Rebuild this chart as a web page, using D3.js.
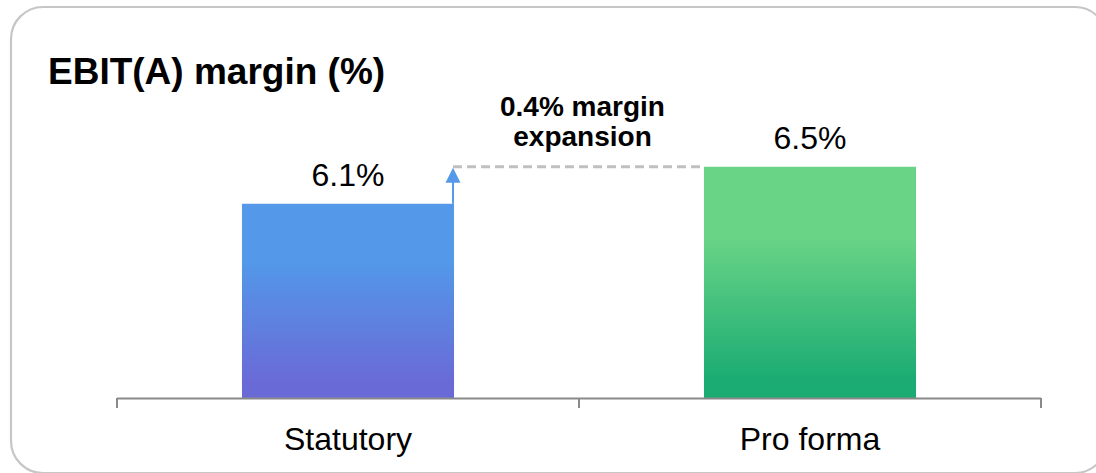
<!DOCTYPE html>
<html>
<head>
<meta charset="utf-8">
<script src="https://cdn.jsdelivr.net/npm/d3@7"></script>
<style>
  html, body { margin: 0; padding: 0; background: #fff; }
  svg { display: block; font-family: "Liberation Sans", Arial, sans-serif; }
</style>
</head>
<body>
<svg id="chart" width="1096" height="473"></svg>
<script>
// ---- data ----
const categories = ["Statutory", "Pro forma"];
const values = [6.1, 6.5];
const valueLabels = ["6.1%", "6.5%"];
const title = "EBIT(A) margin (%)";
const annotationLines = ["0.4% margin", "expansion"];
const yDomain = [4, 7];

// ---- layout ----
const W = 1096, H = 473;
const plot = { left: 117, right: 1041, top: 120.5, bottom: 398 };

const svg = d3.select("#chart");

// gradients
const defs = svg.append("defs");
const grads = [
  { id: "gBlue", top: "#5398e9", bottom: "#6a6ad6" },
  { id: "gGreen", top: "#6ad486", bottom: "#1bac73" }
];
grads.forEach(g => {
  const lg = defs.append("linearGradient").attr("id", g.id)
    .attr("x1", 0).attr("y1", 0).attr("x2", 0).attr("y2", 1);
  lg.append("stop").attr("offset", "0%").attr("stop-color", g.top);
  lg.append("stop").attr("offset", "30%").attr("stop-color", g.top);
  lg.append("stop").attr("offset", "92%").attr("stop-color", g.bottom);
  lg.append("stop").attr("offset", "100%").attr("stop-color", g.bottom);
});

// rounded border
svg.append("rect")
  .attr("x", 11).attr("y", 7)
  .attr("width", 1096).attr("height", 466)
  .attr("rx", 32).attr("ry", 32)
  .attr("fill", "none")
  .attr("stroke", "#c6c6c6")
  .attr("stroke-width", 2.2);

// title
svg.append("text")
  .attr("x", 48).attr("y", 84)
  .attr("font-size", 37).attr("font-weight", "bold")
  .attr("fill", "#000")
  .text(title);

// scales
const x = d3.scaleBand().domain(categories).range([plot.left, plot.right]).padding(0);
const y = d3.scaleLinear().domain(yDomain).range([plot.bottom, plot.top]);
const barFrac = 0.459;
const barW = x.bandwidth() * barFrac;
const barX = c => x(c) + (x.bandwidth() - barW) / 2;

// bars
svg.selectAll("rect.bar").data(categories).enter().append("rect")
  .attr("class", "bar")
  .attr("x", c => barX(c))
  .attr("y", (c, i) => y(values[i]))
  .attr("width", barW)
  .attr("height", (c, i) => y(yDomain[0]) - y(values[i]))
  .attr("fill", (c, i) => `url(#${grads[i].id})`);

// value labels
svg.selectAll("text.val").data(categories).enter().append("text")
  .attr("class", "val")
  .attr("x", c => x(c) + x.bandwidth() / 2)
  .attr("y", (c, i) => y(values[i]) - 18)
  .attr("text-anchor", "middle")
  .attr("font-size", 32)
  .attr("fill", "#000")
  .text((c, i) => valueLabels[i]);

// x axis (Excel-style: ticks at category boundaries)
const axisG = svg.append("g").attr("transform", `translate(0,${plot.bottom})`);
const axis = d3.axisBottom(x).tickSize(0).tickPadding(29);
axisG.call(axis);
axisG.select(".domain").remove();
axisG.selectAll(".tick text")
  .attr("font-size", 32)
  .attr("font-family", "Liberation Sans, Arial, sans-serif")
  .attr("fill", "#000");
const boundaries = categories.map(c => x(c)).concat([x(categories[categories.length - 1]) + x.bandwidth()]);
axisG.append("line")
  .attr("x1", plot.left).attr("x2", plot.right)
  .attr("y1", 0.5).attr("y2", 0.5)
  .attr("stroke", "#8a8a8a").attr("stroke-width", 2);
axisG.selectAll("line.bt").data(boundaries).enter().append("line")
  .attr("class", "bt")
  .attr("x1", d => d).attr("x2", d => d)
  .attr("y1", 0).attr("y2", 10)
  .attr("stroke", "#8a8a8a").attr("stroke-width", 2);

// dashed connector from statutory bar edge to pro forma bar top
const startX = barX(categories[0]) + barW - 1;
const endX = barX(categories[1]);
svg.append("line")
  .attr("x1", startX).attr("x2", endX)
  .attr("y1", y(values[1])).attr("y2", y(values[1]))
  .attr("stroke", "#c0c0c0")
  .attr("stroke-width", 3)
  .attr("stroke-dasharray", "9,5");

// arrow
const arrowColor = "#5599e8";
svg.append("line")
  .attr("x1", startX).attr("x2", startX)
  .attr("y1", y(values[0])).attr("y2", y(values[1]) + 14)
  .attr("stroke", arrowColor).attr("stroke-width", 2);
svg.append("path")
  .attr("d", d3.line()([
    [startX - 7.5, y(values[1]) + 16],
    [startX + 7.5, y(values[1]) + 16],
    [startX, y(values[1]) + 1]
  ]) + "Z")
  .attr("fill", arrowColor);

// annotation
const annX = (startX + endX) / 2 + 4;
svg.selectAll("text.ann").data(annotationLines).enter().append("text")
  .attr("class", "ann")
  .attr("x", annX)
  .attr("y", (d, i) => 116 + i * 30)
  .attr("text-anchor", "middle")
  .attr("font-size", 28)
  .attr("font-weight", "bold")
  .attr("fill", "#000")
  .text(d => d);
</script>
</body>
</html>
